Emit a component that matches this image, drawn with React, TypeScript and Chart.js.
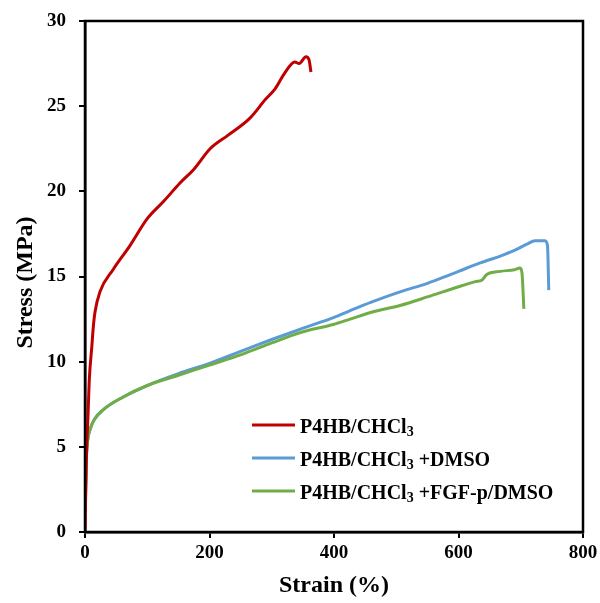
import React, { useEffect, useRef } from "react";
import { Chart, registerables } from "chart.js";

Chart.register(...registerables);

const redStrain = [0, 2, 5, 7, 11, 13, 16, 24, 45, 72, 100, 126, 153, 175, 201, 230, 265, 290, 305, 320, 337, 344, 355, 360, 363];
const redStress = [0, 4, 7, 9, 10.9, 11.9, 12.9, 14.1, 15.4, 16.8, 18.4, 19.4, 20.5, 21.3, 22.5, 23.3, 24.3, 25.4, 26.0, 26.9, 27.6, 27.5, 27.9, 27.7, 27.0];

const blueStrain = [0, 1, 2, 4, 8, 15, 30, 60, 100, 150, 200, 250, 300, 345, 400, 426, 460, 506, 550, 586, 600, 635, 667, 688, 710, 723, 739, 743, 745];
const blueStress = [0, 2.5, 4.2, 5.3, 6.0, 6.6, 7.2, 7.9, 8.6, 9.3, 9.9, 10.6, 11.3, 11.9, 12.6, 13.0, 13.5, 14.1, 14.6, 15.1, 15.3, 15.8, 16.2, 16.5, 16.9, 17.1, 17.1, 16.8, 14.2];

const greenStrain = [0, 1, 2, 4, 8, 15, 30, 60, 100, 150, 200, 250, 300, 345, 400, 426, 460, 506, 550, 600, 627, 638, 645, 667, 690, 699, 702, 705];
const greenStress = [0, 2.5, 4.2, 5.3, 6.0, 6.6, 7.2, 7.9, 8.6, 9.2, 9.8, 10.4, 11.1, 11.7, 12.2, 12.5, 12.9, 13.3, 13.8, 14.4, 14.7, 14.8, 15.1, 15.3, 15.4, 15.5, 15.2, 13.1];

const seriesNames = [
  { main: "P4HB/CHCl", sub: "3", rest: "" },
  { main: "P4HB/CHCl", sub: "3", rest: " +DMSO" },
  { main: "P4HB/CHCl", sub: "3", rest: " +FGF-p/DMSO" },
];
const seriesColors = ["#C00000", "#5B9BD5", "#70AD47"];

const xTitle = "Strain (%)";
const yTitle = "Stress (MPa)  ";
const FONT = "'Liberation Serif', 'Times New Roman', serif";

const toPoints = (xs: number[], ys: number[]) => xs.map((x, i) => ({ x, y: ys[i] }));

const framePlugin = {
  id: "frame",
  afterDatasetsDraw(chart: any) {
    const { ctx, chartArea } = chart;
    ctx.save();
    ctx.strokeStyle = "#000";
    ctx.lineWidth = 2.5;
    ctx.strokeRect(chartArea.left, chartArea.top, chartArea.right - chartArea.left, chartArea.bottom - chartArea.top);
    ctx.restore();
  },
};

const legendPlugin = {
  id: "customLegend",
  afterDraw(chart: any) {
    const { ctx, chartArea } = chart;
    const x0 = chartArea.left + 167;
    const y0 = chartArea.top + 404;
    const rowH = 33;
    ctx.save();
    seriesNames.forEach((s, i) => {
      const y = y0 + i * rowH;
      ctx.strokeStyle = seriesColors[i];
      ctx.lineWidth = 3;
      ctx.beginPath();
      ctx.moveTo(x0, y);
      ctx.lineTo(x0 + 43, y);
      ctx.stroke();
      ctx.fillStyle = "#000";
      ctx.textBaseline = "middle";
      ctx.textAlign = "left";
      const ty = y + 3;
      ctx.font = `bold 20px ${FONT}`;
      let tx = x0 + 48;
      ctx.fillText(s.main, tx, ty);
      tx += ctx.measureText(s.main).width;
      ctx.font = `bold 14px ${FONT}`;
      ctx.fillText(s.sub, tx, ty + 4);
      tx += ctx.measureText(s.sub).width;
      ctx.font = `bold 20px ${FONT}`;
      ctx.fillText(s.rest, tx, ty);
    });
    ctx.restore();
  },
};

export default function App() {
  const ref = useRef<HTMLCanvasElement>(null);
  useEffect(() => {
    if (!ref.current) return;
    const chart = new Chart(ref.current, {
      type: "line",
      data: {
        datasets: [
          { label: "red", data: toPoints(redStrain, redStress), borderColor: seriesColors[0], order: 0 },
          { label: "blue", data: toPoints(blueStrain, blueStress), borderColor: seriesColors[1], order: 2 },
          { label: "green", data: toPoints(greenStrain, greenStress), borderColor: seriesColors[2], order: 1 },
        ].map((d) => ({ ...d, borderWidth: 3, pointRadius: 0, fill: false, cubicInterpolationMode: "monotone" as const })),
      },
      options: {
        animation: false,
        responsive: true,
        maintainAspectRatio: false,
        layout: { padding: { top: 21, right: 17, left: 0, bottom: 0 } },
        plugins: { legend: { display: false }, tooltip: { enabled: false } },
        scales: {
          x: {
            type: "linear",
            min: 0,
            max: 800,
            afterFit: (s: any) => { s.height = 71; s.paddingLeft = 0; s.paddingRight = 0; },
            ticks: { stepSize: 200, color: "#000", padding: 4, font: { family: FONT, size: 19, weight: "bold" } },
            grid: { drawOnChartArea: false, drawTicks: true, tickLength: 6, color: "#000", lineWidth: 2 },
            border: { display: true, color: "#000", width: 2.5 },
            title: { display: true, text: xTitle, color: "#000", padding: { top: 0, bottom: 3 }, font: { family: FONT, size: 24, weight: "bold" } },
          },
          y: {
            type: "linear",
            min: 0,
            max: 30,
            afterFit: (s: any) => { s.width = 85; s.paddingTop = 0; s.paddingBottom = 0; },
            ticks: { stepSize: 5, color: "#000", padding: 13, font: { family: FONT, size: 19, weight: "bold" } },
            grid: { drawOnChartArea: false, drawTicks: true, tickLength: 6, color: "#000", lineWidth: 2 },
            border: { display: true, color: "#000", width: 2.5 },
            title: { display: true, text: yTitle, color: "#000", padding: { top: 11, bottom: 0 }, font: { family: FONT, size: 24, weight: "bold" } },
          },
        },
      },
      plugins: [framePlugin, legendPlugin],
    });
    return () => chart.destroy();
  }, []);
  return (
    <div style={{ position: "fixed", left: 0, top: 0, width: 600, height: 603, background: "#fff" }}>
      <canvas ref={ref} />
    </div>
  );
}
